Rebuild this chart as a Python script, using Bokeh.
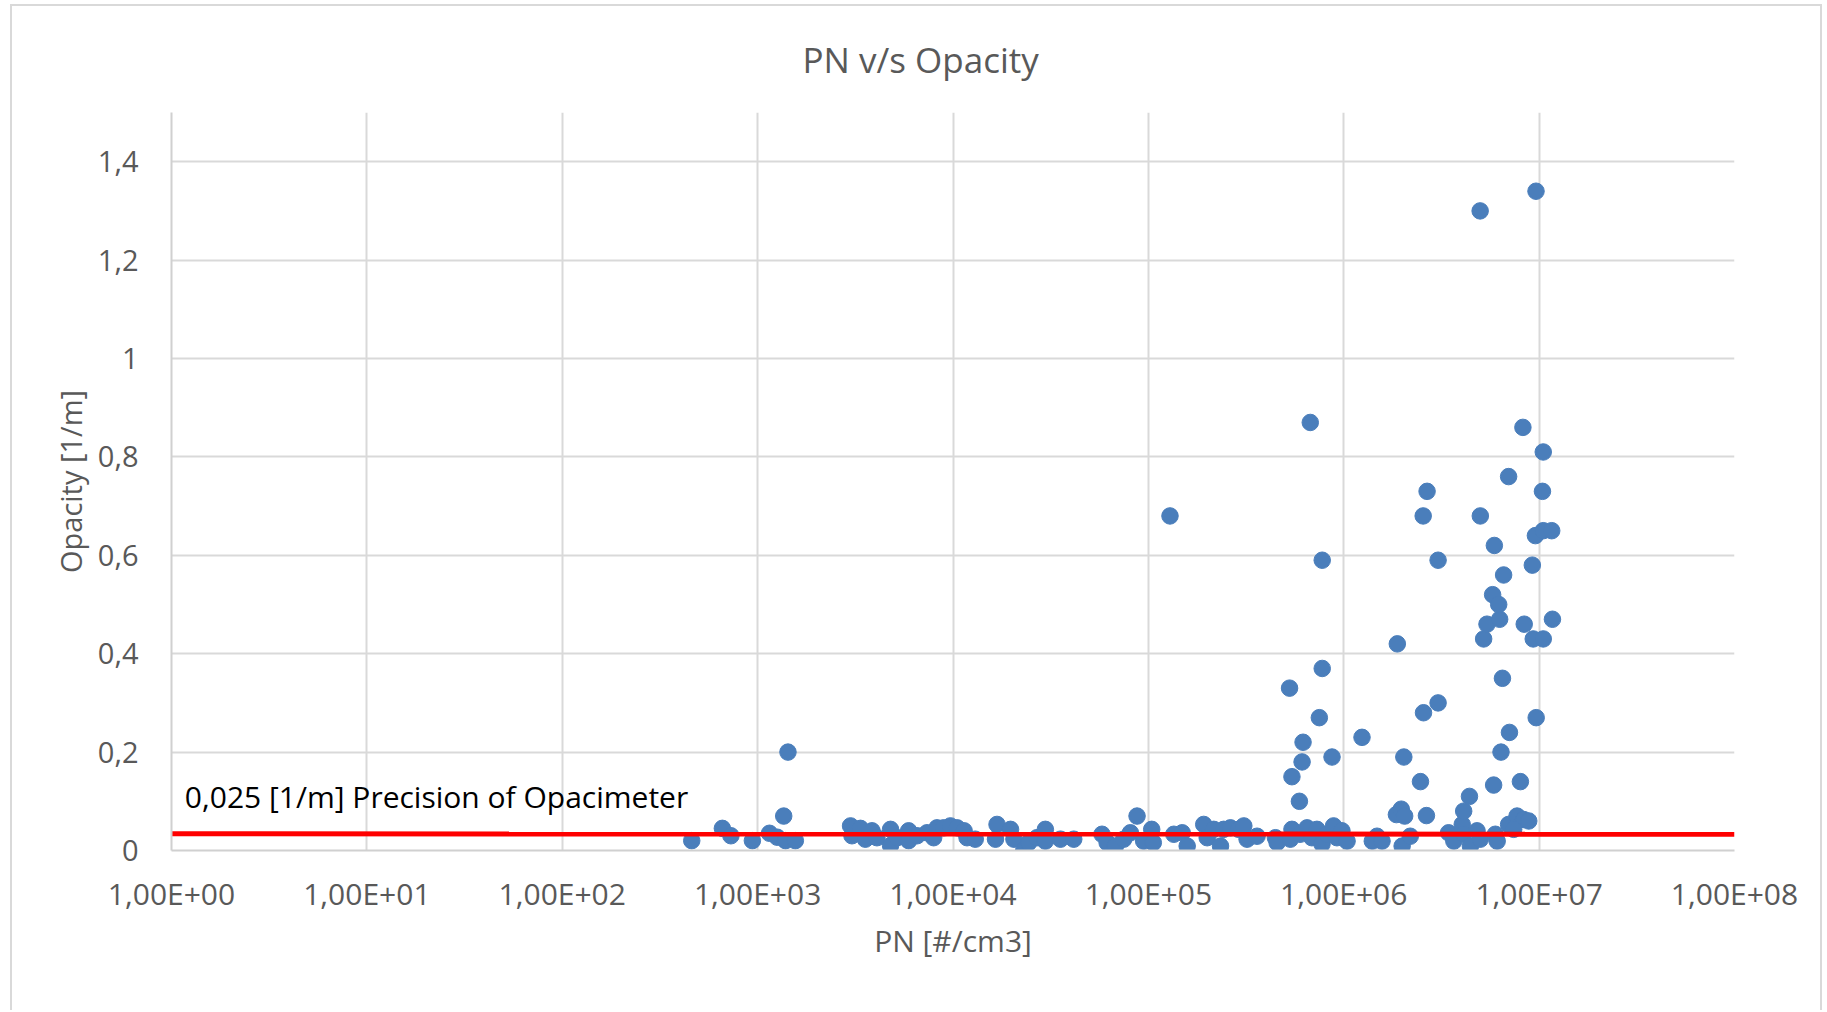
from bokeh.plotting import figure
from bokeh.models import FixedTicker, CustomJSTickFormatter, Range1d
from bokeh.core.properties import value
from bokeh.embed import file_html
from bokeh.resources import INLINE

# ---- data ----
pn = [
    4.6e2, 6.6e2, 7.3e2, 9.4e2, 1.15e3, 1.26e3, 1.39e3, 1.56e3, 1.36e3, 1.43e3,
    2.99e3, 3.04e3, 3.36e3, 3.56e3, 3.85e3, 4.08e3, 4.79e3, 4.79e3, 5.18e3, 5.93e3,
    5.93e3, 6.55e3, 7.36e3, 7.96e3, 8.28e3, 8.95e3, 9.70e3, 1.05e4, 1.14e4, 1.18e4,
    1.30e4, 1.68e4, 1.65e4, 1.97e4, 2.05e4, 2.30e4, 2.44e4, 2.69e4, 2.97e4, 2.97e4,
    3.55e4, 4.15e4, 5.79e4, 6.15e4, 6.78e4, 7.48e4, 8.09e4, 8.75e4, 9.46e4, 1.04e5,
    1.06e5, 1.29e5, 1.35e5, 1.49e5, 1.58e5, 1.92e5, 2.00e5, 2.16e5, 2.43e5, 2.34e5,
    2.63e5, 2.90e5, 3.08e5, 3.20e5, 3.60e5, 4.47e5, 4.56e5, 5.43e5, 5.33e5, 5.98e5,
    6.49e5, 6.87e5, 7.29e5, 7.74e5, 8.20e5, 8.87e5, 9.23e5, 9.79e5, 1.04e6, 6.74e5,
    7.76e5, 5.28e5, 7.76e5, 7.50e5, 6.19e5, 6.12e5, 5.43e5, 5.93e5, 8.71e5, 1.24e6,
    1.48e6, 1.40e6, 1.57e6, 1.99e6, 2.19e6, 1.86e6, 1.97e6, 2.05e6, 1.88e6, 2.03e6,
    2.47e6, 2.65e6, 2.67e6, 2.55e6, 3.04e6, 3.04e6, 2.56e6, 3.44e6, 3.66e6, 4.04e6,
    4.11e6, 4.40e6, 4.11e6, 4.45e6, 4.81e6, 5.00e6, 5.97e6, 6.10e6, 6.98e6, 7.71e6,
    8.34e6, 8.85e6, 7.41e6, 5.85e6, 8.02e6, 6.38e6, 7.05e6, 9.66e6, 6.49e6, 5.20e6,
    5.41e6, 6.28e6, 8.39e6, 1.17e7, 9.33e6, 1.05e7, 5.78e6, 6.21e6, 6.58e6, 9.23e6,
    5.90e6, 9.57e6, 1.05e7, 1.16e7, 5.00e6, 1.04e7, 6.98e6, 1.05e7, 8.26e6, 4.99e6,
    9.64e6,
]
opacity = [
    0.02, 0.045, 0.03, 0.02, 0.035, 0.027, 0.02, 0.02, 0.07, 0.20,
    0.05, 0.03, 0.045, 0.023, 0.04, 0.026, 0.043, 0.01, 0.026, 0.04,
    0.02, 0.03, 0.036, 0.026, 0.046, 0.046, 0.05, 0.046, 0.04, 0.026,
    0.023, 0.053, 0.023, 0.043, 0.023, 0.0, 0.016, 0.026, 0.043, 0.019,
    0.023, 0.023, 0.033, 0.016, 0.009, 0.023, 0.036, 0.07, 0.019, 0.043,
    0.016, 0.68, 0.033, 0.036, 0.009, 0.053, 0.026, 0.043, 0.043, 0.009,
    0.046, 0.043, 0.05, 0.023, 0.029, 0.026, 0.016, 0.043, 0.023, 0.033,
    0.046, 0.026, 0.043, 0.013, 0.033, 0.05, 0.026, 0.04, 0.019, 0.87,
    0.59, 0.33, 0.37, 0.27, 0.22, 0.18, 0.15, 0.10, 0.19, 0.23,
    0.029, 0.019, 0.019, 0.009, 0.029, 0.073, 0.084, 0.07, 0.42, 0.19,
    0.14, 0.071, 0.73, 0.68, 0.59, 0.30, 0.28, 0.036, 0.019, 0.053,
    0.08, 0.11, 0.033, 0.009, 0.04, 0.023, 0.033, 0.019, 0.053, 0.07,
    0.063, 0.06, 0.043, 0.133, 0.14, 0.20, 0.24, 0.27, 0.35, 0.43,
    0.46, 0.47, 0.46, 0.47, 0.43, 0.43, 0.52, 0.50, 0.56, 0.58,
    0.62, 0.64, 0.65, 0.65, 0.68, 0.73, 0.76, 0.81, 0.86, 1.30,
    1.34,
]

x_ticks = [1, 1e1, 1e2, 1e3, 1e4, 1e5, 1e6, 1e7, 1e8]
x_tick_labels = ["1,00E+00", "1,00E+01", "1,00E+02", "1,00E+03", "1,00E+04",
                 "1,00E+05", "1,00E+06", "1,00E+07", "1,00E+08"]
y_ticks = [0, 0.2, 0.4, 0.6, 0.8, 1.0, 1.2, 1.4]
y_tick_labels = ["0", "0,2", "0,4", "0,6", "0,8", "1", "1,2", "1,4"]

precision_x = [1, 1e8]
precision_y = [0.034, 0.033]
note_x = [1.17]
note_y = [0.109]
note_text = ["0,025 [1/m] Precision of Opacimeter"]

TITLE = "PN v/s Opacity"
X_TITLE = "PN [#/cm3]"
Y_TITLE = "Opacity [1/m]"

GRAY = "#595959"
FONT = "Open Sans"

p = figure(
    width=1812, height=1006,
    x_axis_type="log",
    x_range=Range1d(1, 1e8), y_range=Range1d(0, 1.5),
    output_backend="svg", toolbar_location=None,
    min_border_left=159, min_border_right=90,
    min_border_top=106, min_border_bottom=162,
    title=TITLE,
)
p.styles = {
    "margin-left": "10px", "margin-top": "4px",
    "border-left": "2px solid #d9d9d9", "border-top": "2px solid #d9d9d9",
    "border-right": "2px solid #d9d9d9",
}
p.background_fill_color = "white"
p.border_fill_color = "white"
p.outline_line_color = None

p.title.text_font = FONT
p.title.text_font_size = "35px"
p.title.text_font_style = "normal"
p.title.text_color = GRAY
p.title.align = "left"
p.title.vertical_align = "top"
p.title.offset = 631
p.title.standoff = 56

# axes
p.xaxis.ticker = FixedTicker(ticks=x_ticks)
p.xgrid.ticker = FixedTicker(ticks=x_ticks)
p.yaxis.ticker = FixedTicker(ticks=y_ticks)
p.ygrid.ticker = FixedTicker(ticks=y_ticks)
p.xaxis.formatter = CustomJSTickFormatter(
    args=dict(tvals=x_ticks, tlabels=x_tick_labels),
    code="""
let best = 0;
for (let i = 0; i < tvals.length; i++) {
  if (Math.abs(Math.log10(tvals[i]) - Math.log10(tick)) <
      Math.abs(Math.log10(tvals[best]) - Math.log10(tick))) best = i;
}
return tlabels[best];
""")
p.yaxis.formatter = CustomJSTickFormatter(
    args=dict(tvals=y_ticks, tlabels=y_tick_labels),
    code="""
let best = 0;
for (let i = 0; i < tvals.length; i++) {
  if (Math.abs(tvals[i] - tick) < Math.abs(tvals[best] - tick)) best = i;
}
return tlabels[best];
""")

for ax in (p.xaxis, p.yaxis):
    ax.major_tick_line_color = None
    ax.minor_tick_line_color = None
    ax.axis_line_color = "#d0d0d0"
    ax.axis_line_width = 2
    ax.major_label_text_font = FONT
    ax.major_label_text_color = GRAY
    ax.axis_label_text_font = FONT
    ax.axis_label_text_font_style = "normal"
    ax.axis_label_text_color = GRAY

p.xaxis.major_label_text_font_size = "30px"
p.yaxis.major_label_text_font_size = "29px"
p.xaxis.axis_label_text_font_size = "30px"
p.yaxis.axis_label_text_font_size = "29px"

p.xaxis.axis_label = X_TITLE
p.yaxis.axis_label = Y_TITLE
p.xaxis.major_label_standoff = 16
p.yaxis.major_label_standoff = 27
p.xaxis.axis_label_standoff = 3
p.yaxis.axis_label_standoff = 5

for g in (p.xgrid, p.ygrid):
    g.grid_line_color = "#d9d9d9"
    g.grid_line_width = 2

p.scatter(pn, opacity, marker="circle", size=16.5,
          fill_color="#4a7ebb", line_color="#4a7ebb")
p.line(precision_x, precision_y, line_color="#ff0000", line_width=5)
p.text(note_x, note_y, text=note_text, text_font=value(FONT),
       text_font_size="30px", text_color="black", text_baseline="middle")

open("out.html", "w").write(file_html(p, INLINE))
